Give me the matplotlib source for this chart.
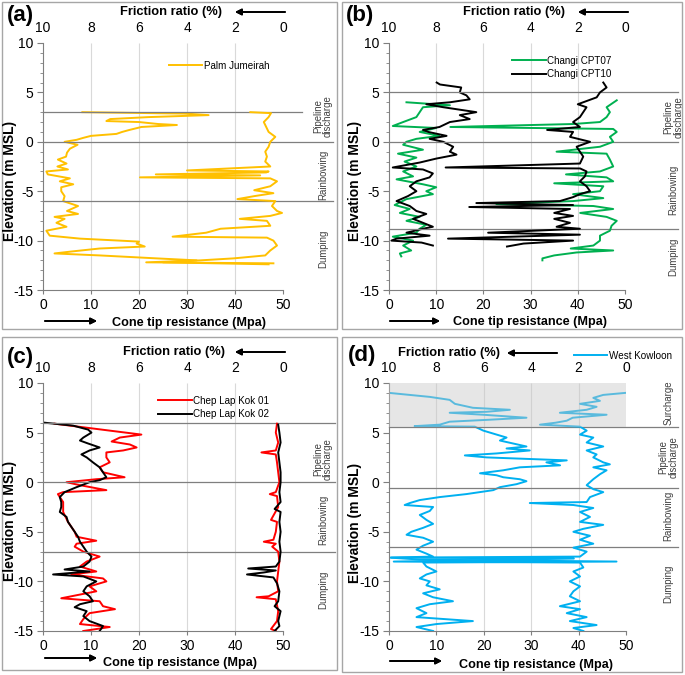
import matplotlib
matplotlib.use("Agg")
import matplotlib.pyplot as plt
from matplotlib.patches import Rectangle
from matplotlib.ticker import MultipleLocator

plt.rcParams['font.family'] = ['Liberation Sans', 'DejaVu Sans']
plt.rcParams['axes.unicode_minus'] = False

W, H = 685, 675

# ---- (a) Palm Jumeirah: cone tip resistance (Mpa) and friction ratio (%) vs elevation
palm_qc_z = [3.0, 2.85, 2.7, 2.5, 2.3, 2.1, 2.0, 1.8, 1.7, 1.5, 1.2, 1.0, 0.8, 0.6, 0.4, 0.2, 0.0,
             -0.3, -0.7, -1.1, -1.5, -1.8, -2.2, -2.5, -2.8, -3.0, -3.3, -3.7, -4.0, -4.3, -4.6,
             -5.0, -5.5, -6.0, -6.5, -7.0, -7.3, -7.6, -7.8, -8.2, -8.6, -9.0, -9.5, -9.8, -10.1,
             -10.3, -10.6, -10.8, -11.1, -11.3, -11.5, -11.8, -12.0, -12.2, -12.4]
palm_qc = [8.2, 30.0, 34.5, 22.0, 14.0, 13.2, 20.0, 24.0, 27.9, 20.5, 18.0, 16.5, 15.3, 10.0, 8.4, 7.0, 4.5,
           7.2, 5.6, 5.0, 4.8, 3.1, 4.9, 3.0, 5.2, 0.7, 1.0, 5.6, 3.5, 6.3, 3.8,
           3.8, 4.5, 4.2, 7.3, 5.0, 7.3, 2.4, 4.5, 2.8, 4.9, 0.7, 1.4, 7.7, 20.0,
           19.5, 21.2, 11.8, 6.0, 2.4, 11.8, 23.7, 32.0, 25.0, 47.0]
palm_fr_z = [3.0, 2.9, 2.5, 2.0, 1.5, 1.0, 0.5, 0.0, -0.5, -1.0, -1.5, -2.0, -2.5, -2.9, -3.0, -3.1,
             -3.3, -3.4, -3.6, -3.7, -4.0, -4.5, -4.9, -5.2, -5.5, -5.8, -6.0, -6.5, -7.0, -7.2,
             -7.5, -7.8, -8.0, -8.5, -8.8, -9.2, -9.6, -9.7, -10.0, -10.5, -11.0, -11.5, -11.8,
             -12.0, -12.2, -12.3]
palm_fr = [1.36, 0.5, 0.6, 0.8, 0.7, 0.6, 0.32, 0.53, 0.6, 0.74, 0.67, 0.74, 0.53, 4.0, 0.6, 0.7,
           5.3, 0.95, 5.96, 0.53, 0.25, 0.53, 1.2, 0.4, 1.2, 1.9, 0.32, 0.46, 0.25, 0.04,
           0.53, 1.8, 0.67, 0.53, 2.6, 3.2, 4.6, 0.67, 0.4, 0.25, 0.53, 0.74, 2.06,
           3.45, 5.7, 0.4]

# ---- (b) Changi CPT07 / CPT10
c07_qc_z = [4.0, 3.7, 3.5, 3.0, 2.5, 2.0, 1.6, 1.4, 1.0, 0.6, 0.3, 0.0, -0.3, -0.8, -1.2, -1.6,
            -2.0, -2.5, -3.0, -3.5, -3.8, -4.3, -4.6, -5.0, -5.3, -5.8, -6.4, -6.8, -7.2, -7.6,
            -8.0, -8.4, -8.8, -9.2, -9.6, -10.0, -10.5, -11.0, -11.3, -11.6]
c07_qc = [3.7, 12.9, 7.2, 6.5, 5.8, 3.0, 0.8, 10.0, 6.5, 10.7, 5.8, 3.7, 3.0, 7.2, 1.9, 5.8,
          3.3, 5.8, 3.0, 5.1, 1.6, 7.2, 10.0, 7.9, 9.3, 3.7, 1.2, 4.4, 2.3, 6.5,
          3.7, 7.9, 6.5, 5.8, 0.8, 5.1, 3.0, 4.7, 2.3, 2.6]
c10_qc_z = [6.0, 5.8, 5.5, 5.0, 4.7, 4.3, 4.0, 3.8, 3.5, 3.0, 2.7, 2.3, 2.0, 1.5, 1.2, 1.0, 0.6,
            0.3, 0.0, -0.5, -1.0, -1.3, -1.7, -2.1, -2.6, -2.8, -3.2, -3.6, -4.0, -4.5, -5.0,
            -5.5, -6.0, -6.5, -7.0, -7.3, -7.8, -8.2, -8.6, -8.8, -9.2, -9.5, -9.8, -10.0,
            -10.2, -10.5]
c10_qc = [10.1, 10.8, 15.3, 15.0, 16.4, 17.1, 12.9, 7.9, 11.5, 18.5, 15.0, 17.1, 12.9, 10.7, 7.2, 8.3, 12.2,
          8.6, 11.5, 13.6, 12.9, 14.3, 10.0, 6.5, 0.8, 7.2, 9.3, 8.6, 5.8, 4.4, 5.8,
          4.0, 1.6, 4.4, 5.8, 7.9, 5.1, 7.2, 9.3, 7.2, 3.7, 8.6, 1.6, 0.5,
          6.9, 9.3]
c07_fr_z = [4.2, 3.5, 3.0, 2.5, 2.0, 1.8, 1.5, 1.3, 1.0, 0.5, 0.0, -0.5, -1.0, -1.2, -1.8, -2.5,
            -3.0, -3.3, -3.6, -4.0, -4.2, -4.5, -5.0, -5.3, -5.7, -6.0, -6.3, -6.5, -6.8, -7.2,
            -7.6, -8.0, -8.5, -9.0, -9.5, -10.0, -10.5, -10.8, -11.0, -11.2, -11.5, -11.8, -12.0]
c07_fr = [0.35, 0.78, 0.64, 0.78, 1.06, 2.2, 7.4, 0.5, 0.35, 0.64, 0.5, 1.06, 2.9, 0.78, 0.64, 0.5,
          1.06, 2.5, 0.78, 0.5, 3.0, 0.92, 1.06, 2.2, 0.92, 2.2, 5.45, 1.34, 0.5, 1.9,
          0.78, 0.35, 0.57, 0.64, 1.06, 1.06, 1.34, 2.3, 0.5, 2.05, 3.0, 3.5, 3.5]
c10_fr_z = [6.0, 5.5, 5.0, 4.5, 3.8, 3.5, 3.0, 2.5, 2.0, 1.5, 1.2, 1.0, 0.5, 0.0, -0.5, -1.0,
            -1.5, -2.2, -2.6, -2.7, -3.0, -3.5, -4.0, -4.5, -5.0, -5.3, -5.6, -6.0, -6.2, -6.4,
            -6.6, -6.8, -7.2, -7.5, -7.8, -8.2, -8.6, -8.8, -9.2, -9.4, -9.8, -10.0, -10.3, -10.6]
c10_fr = [0.92, 0.78, 1.06, 1.2, 2.0, 1.63, 1.77, 1.91, 2.2, 1.91, 3.3, 2.2, 2.33, 1.48, 2.05, 1.91,
          1.77, 1.91, 7.6, 1.9, 1.63, 1.7, 1.91, 1.63, 1.48, 1.91, 2.2, 2.76, 6.3, 2.2,
          6.6, 2.33, 3.0, 2.2, 3.0, 2.33, 2.9, 1.91, 5.8, 1.91, 7.5, 2.2, 4.3, 5.0]

# ---- (c) Chep Lap Kok 01 / 02
k01_qc_z = [5.9, 5.5, 5.2, 4.8, 4.5, 4.1, 3.8, 3.5, 3.2, 3.0, 2.5, 2.0, 1.5, 1.0, 0.5, 0.3, 0.0,
            -0.3, -0.8, -1.0, -1.2, -2.0, -3.0, -4.0, -5.0, -5.5, -5.9, -6.2, -6.5, -7.0, -7.5,
            -8.0, -8.5, -9.0, -9.3, -9.7, -10.0, -10.5, -11.0, -11.5, -11.7, -12.0, -12.5,
            -12.8, -13.2, -13.8, -14.3, -14.6, -15.0]
k01_qc = [2.4, 9.0, 13.9, 20.5, 16.0, 14.3, 18.1, 19.5, 16.7, 13.2, 13.2, 13.9, 11.8, 12.5, 17.0, 11.1, 4.9,
          7.7, 13.2, 4.2, 3.1, 4.2, 4.2, 5.2, 6.6, 7.0, 11.1, 7.0, 6.6, 8.4, 11.8,
          9.1, 7.7, 11.1, 5.9, 12.5, 13.2, 9.7, 11.1, 5.9, 3.8, 11.8, 12.5,
          15.0, 9.7, 8.4, 7.7, 13.9, 8.4]
k02_qc_z = [6.0, 5.7, 5.3, 5.0, 4.5, 4.2, 3.9, 3.5, 3.2, 2.8, 2.5, 2.0, 1.5, 1.0, 0.5, 0.2, 0.0,
            -0.5, -1.0, -1.5, -2.0, -2.5, -3.0, -3.5, -4.0, -4.5, -5.0, -5.5, -6.0, -6.5, -7.0,
            -7.5, -8.0, -8.5, -8.8, -9.0, -9.3, -9.5, -10.0, -10.5, -11.0, -11.5, -12.0, -12.3,
            -12.6, -13.0, -13.5, -14.0, -14.5, -15.0]
k02_qc = [0.3, 6.3, 9.4, 10.1, 8.4, 7.7, 9.4, 11.8, 9.7, 8.0, 9.1, 10.4, 11.8, 12.5, 13.2, 11.8, 9.7,
          7.0, 4.5, 3.5, 3.8, 3.8, 3.5, 4.9, 5.2, 5.9, 6.6, 7.3, 7.7, 8.4, 9.1,
          10.1, 9.7, 8.4, 4.5, 9.7, 2.1, 8.4, 11.1, 9.1, 8.4, 9.7, 10.4, 7.7,
          6.6, 9.1, 8.4, 9.7, 12.5, 11.8]
k01_fr_z = [5.9, 5.0, 4.0, 3.2, 3.0, 2.8, 2.0, 1.0, 0.0, -1.0, -1.2, -1.4, -2.5, -3.8, -4.0, -5.0,
            -5.8, -6.0, -6.2, -6.5, -7.0, -8.0, -9.0, -10.0, -11.0, -11.5, -11.6, -11.8, -13.0,
            -14.0, -14.8, -15.0]
k01_fr = [0.25, 0.3, 0.2, 0.3, 0.9, 0.3, 0.25, 0.2, 0.15, 0.3, 0.55, 0.25, 0.2, 0.5, 0.25, 0.3,
          0.4, 0.8, 0.3, 0.45, 0.2, 0.15, 0.2, 0.25, 0.2, 0.6, 1.1, 0.3, 0.2,
          0.25, 0.5, 0.3]
k02_fr_z = [5.8, 5.0, 4.0, 3.0, 2.0, 1.0, 0.0, -1.0, -2.0, -2.7, -3.0, -4.0, -5.0, -6.0, -7.0, -8.0,
            -8.5, -8.7, -8.9, -9.1, -9.3, -9.6, -10.2, -11.0, -12.0, -12.5, -13.0, -14.0, -14.5, -15.0]
k02_fr = [0.2, 0.15, 0.1, 0.2, 0.15, 0.1, 0.1, 0.15, 0.1, 0.35, 0.1, 0.15, 0.1, 0.15, 0.1, 0.15,
          0.3, 1.45, 0.3, 0.8, 1.5, 0.4, 0.25, 0.15, 0.2, 0.35, 0.1, 0.2, 0.15, 0.35]

# ---- (d) West Kowloon
wk_qc_z = [9.0, 8.6, 8.3, 7.9, 7.5, 7.3, 7.1, 7.0, 6.8, 6.5, 6.3, 6.1, 5.8, 5.65, 5.6, 5.2, 4.8,
           4.5, 4.2, 3.9, 3.6, 3.4, 3.2, 2.9, 2.7, 2.5, 2.2, 2.0, 1.7, 1.5, 1.2, 0.9, 0.7, 0.5,
           0.3, 0.1, -0.2, -0.5, -0.8, -1.2, -1.5, -1.8, -2.1, -2.3, -2.5, -2.9, -3.3, -3.8,
           -4.2, -4.6, -5.0, -5.3, -5.6, -6.0, -6.4, -6.8, -7.2, -7.5, -7.6, -7.8, -8.0, -8.1,
           -8.5, -9.0, -9.3, -9.7, -10.0, -10.4, -10.8, -11.2, -11.6, -12.0, -12.3, -12.7,
           -13.2, -13.6, -14.0, -14.3, -14.6, -15.0]
wk_qc = [0.1, 8.6, 12.8, 13.9, 17.7, 25.5, 20.6, 12.8, 19.9, 29.0, 21.3, 12.8, 10.7, 5.4, 18.1, 19.9, 22.7,
         24.8, 23.4, 26.2, 29.0, 24.8, 29.7, 22.7, 16.0, 20.6, 37.5, 33.2, 36.1, 27.6, 24.1, 19.2, 22.7, 24.1,
         27.6, 29.0, 26.9, 23.4, 22.0, 16.3, 10.7, 6.5, 4.4, 3.3, 9.3, 8.6, 6.5, 7.9,
         9.3, 7.2, 4.7, 3.7, 7.2, 9.3, 7.2, 5.8, 7.9, 9.3, 0.1, 6.5, 48.0, 7.2,
         7.9, 10.0, 7.9, 6.5, 8.6, 7.9, 10.7, 7.2, 9.3, 13.5, 8.6, 5.8,
         7.9, 5.8, 17.7, 10.0, 5.8, 9.3]
wk_fr_z = [9.0, 8.8, 8.5, 8.2, 7.9, 7.6, 7.3, 7.0, 6.8, 6.5, 6.2, 6.0, 5.8, 5.6, 5.2, 4.8, 4.5,
           4.0, 3.6, 3.2, 2.8, 2.5, 2.0, 1.8, 1.5, 1.2, 0.8, 0.3, -0.3, -0.7, -1.0, -1.5, -2.0,
           -2.1, -2.3, -2.6, -3.0, -3.5, -4.0, -4.3, -4.7, -5.0, -5.4, -5.8, -6.2, -6.6, -7.0,
           -7.5, -7.6, -7.7, -8.0, -8.1, -8.6, -9.0, -9.5, -10.0, -10.5, -11.0, -11.5, -12.0,
           -12.5, -12.8, -13.2, -13.6, -14.0, -14.4, -14.7, -15.0]
wk_fr = [0.04, 0.96, 1.38, 1.1, 1.94, 1.24, 1.66, 2.79, 0.82, 2.25, 2.5, 2.96, 3.63, 1.94, 1.66, 1.94, 1.38,
         1.66, 0.96, 1.66, 1.24, 1.38, 0.96, 0.68, 1.38, 0.82, 1.1, 1.38, 1.66, 1.38, 0.96, 1.52, 1.66,
         4.06, 2.22, 1.38, 1.94, 1.52, 1.94, 0.96, 1.8, 2.22, 1.52, 1.94, 1.38, 2.22, 1.66,
         1.94, 9.9, 2.2, 9.8, 1.94, 1.8, 2.22, 1.94, 2.37, 1.94, 2.22, 2.37, 1.94,
         2.79, 1.94, 2.5, 1.66, 2.37, 1.24, 2.22, 1.8]

# layer boundaries (m MSL) and layer names
a_bounds = [3, 0, -6]
b_bounds = [5, 0, -8.8]
c_bounds = [6, 0, -7]
d_bounds = [5.6, -0.6, -6.5]
layers3 = ['Pipeline\ndischarge', 'Rainbowing', 'Dumping']
layers4 = ['Surcharge', 'Pipeline\ndischarge', 'Rainbowing', 'Dumping']

qc_ticks = [0, 10, 20, 30, 40, 50]
fr_ticks = [10, 8, 6, 4, 2, 0]
z_ticks = [-15, -10, -5, 0, 5, 10]
grid_x = [10, 20, 30, 40]

fig = plt.figure(figsize=(W / 100, H / 100), dpi=100)

GREY = '#7f7f7f'


def rect_px(x0, y0, x1, y1):
    # pixel box (from top-left) -> figure fraction [l, b, w, h]
    return [x0 / W, 1 - y1 / H, (x1 - x0) / W, (y1 - y0) / H]


def arrow(x0, x1, y):
    fig.add_artist(plt.annotate('', xy=(x1, H - y), xytext=(x0, H - y),
                                xycoords='figure pixels', textcoords='figure pixels',
                                arrowprops=dict(arrowstyle='-|>', color='black', lw=1.3,
                                                mutation_scale=9, shrinkA=0, shrinkB=0)))


def panel(box, frame, tag, tag_xy, fr_title, xl_title, ylab_xy, arrows,
          curves, bounds, bound_ends, names, names_z, names_x, shade=None):
    fig.add_artist(Rectangle((frame[0] / W, 1 - frame[3] / H), (frame[2] - frame[0]) / W,
                             (frame[3] - frame[1]) / H, transform=fig.transFigure,
                             fill=False, edgecolor='#a6a6a6', lw=1))
    ax = fig.add_axes(rect_px(*box))
    ax2 = ax.twiny()
    ax.vlines(grid_x, -15, 10, color='#d9d9d9', lw=0.8, zorder=0)
    for qz, qv, fz, fv, color, lab in curves:
        ax.plot(qv, qz, color=color, lw=1.4, label=lab)
        ax2.plot(fv, fz, color=color, lw=1.4)
    for b, e in zip(bounds, bound_ends):
        ax.plot([0, e], [b, b], color=GREY, lw=0.9, clip_on=False, zorder=3)
    for n, z in zip(names, names_z):
        ax.text(names_x, z, n, rotation=90, ha='center', va='center', fontsize=6.9,
                color='#404040', linespacing=1.0, clip_on=False)
    if shade is not None:
        ax2.axhspan(shade, 10, color='#c8c8c8', alpha=0.45, lw=0, zorder=5)
    ax.set_xlim(0, 50)
    ax.set_ylim(-15, 10)
    ax2.set_xlim(10, 0)
    ax.set_xticks(qc_ticks)
    ax.set_yticks(z_ticks)
    ax.yaxis.set_minor_locator(MultipleLocator(1))
    ax2.set_xticks(fr_ticks)
    ax.tick_params(axis='both', labelsize=10, color=GREY, length=4, direction='out')
    ax.tick_params(axis='y', which='minor', color=GREY, length=2.5)
    ax.tick_params(axis='x', pad=3, length=3)
    ax.tick_params(axis='y', pad=3)
    ax2.tick_params(axis='x', labelsize=10, length=0, pad=6)
    for s in ['top', 'right']:
        ax.spines[s].set_visible(False)
    for s in ax2.spines.values():
        s.set_visible(False)
    for s in ['left', 'bottom']:
        ax.spines[s].set_color(GREY)
    fig.text(tag_xy[0] / W, 1 - tag_xy[1] / H, tag, fontsize=16, fontweight='bold',
             ha='center', va='center')
    fig.text(fr_title[0] / W, 1 - fr_title[1] / H, 'Friction ratio (%)', fontsize=9.3,
             fontweight='bold', ha='center', va='center')
    fig.text(xl_title[0] / W, 1 - xl_title[1] / H, 'Cone tip resistance (Mpa)', fontsize=9.1,
             fontweight='bold', ha='center', va='center')
    fig.text(ylab_xy[0] / W, 1 - ylab_xy[1] / H, 'Elevation (m MSL)', fontsize=10,
             fontweight='bold', ha='center', va='center', rotation=90)
    for a in arrows:
        arrow(*a)
    return ax


leg_kw = dict(frameon=False, fontsize=7.1, handlelength=3.4, handletextpad=0.15,
              labelspacing=0.35, borderaxespad=0)

# (a)
ax = panel((43, 43, 283, 290), (2, 2, 337, 329), '(a)', (20, 16), (171, 12), (189, 323), (10, 181),
           [(285, 235, 12), (45, 97, 321)],
           [(palm_qc_z, palm_qc, palm_fr_z, palm_fr, '#FFC000', 'Palm Jumeirah')],
           a_bounds, [54, 60.5, 60.5], layers3, [2.6, -3.3, -10.85], 58.3)
ax.legend(loc='upper right', bbox_to_anchor=(0.96, 0.945), **leg_kw)

# (b)
ax = panel((389, 43, 625, 290), (342, 2, 682, 329), '(b)', (360, 16), (514, 12), (530, 322), (355, 181),
           [(628, 578, 12), (390, 440, 321)],
           [(c07_qc_z, c07_qc, c07_fr_z, c07_fr, '#00B050', 'Changi CPT07'),
            (c10_qc_z, c10_qc, c10_fr_z, c10_fr, 'black', 'Changi CPT10')],
           b_bounds, [61.2, 61.2, 61.2], layers3, [2.5, -4.9, -11.6], 60.2)
ax.legend(loc='upper right', bbox_to_anchor=(0.96, 0.965), **leg_kw)

# (c)
ax = panel((43, 383, 283, 631), (2, 337, 337, 670), '(c)', (20, 357), (174, 352), (180, 663), (10, 521),
           [(285, 235, 352), (45, 97, 658)],
           [(k01_qc_z, k01_qc, k01_fr_z, k01_fr, '#FF0000', 'Chep Lap Kok 01'),
            (k02_qc_z, k02_qc, k02_fr_z, k02_fr, 'black', 'Chep Lap Kok 02')],
           c_bounds, [60.8, 60.8, 60.8], layers3, [2.3, -3.8, -10.8], 58.3)
ax.legend(loc='upper right', bbox_to_anchor=(0.96, 0.965), **leg_kw)

# (d)
ax = panel((389, 383, 626, 631), (342, 337, 682, 672), '(d)', (362, 355), (449, 353), (536, 665), (355, 523),
           [(557, 507, 353), (390, 442, 661)],
           [(wk_qc_z, wk_qc, wk_fr_z, wk_fr, '#00B0F0', 'West Kowloon')],
           d_bounds, [61, 61, 61], layers4, [8.0, 2.5, -3.4, -10.2], 59.0, shade=5.6)
ax.legend(loc='center right', bbox_to_anchor=(1.21, 1.11), **leg_kw)

fig.savefig('out.png', dpi=100)
